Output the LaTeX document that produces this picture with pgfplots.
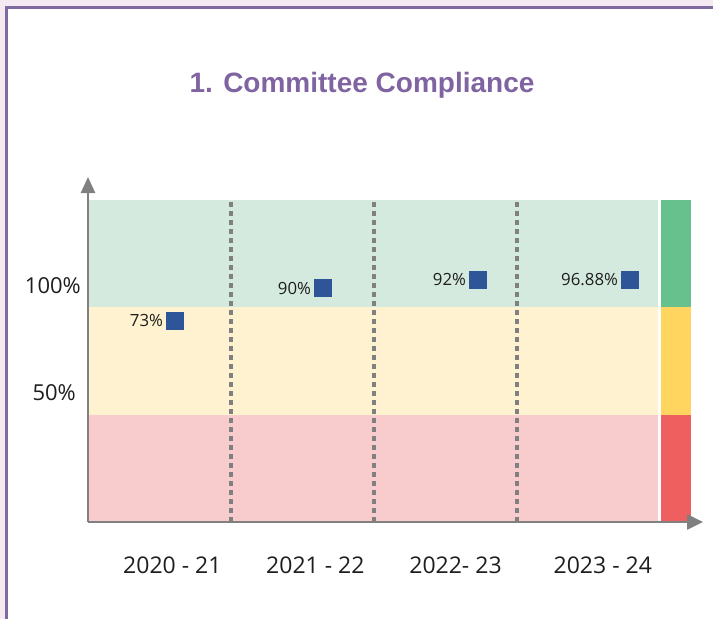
\documentclass[border=0pt]{standalone}
\usepackage{pgfplots}
\pgfplotsset{compat=1.18}
\usepackage{fontspec}
\setmainfont{Open Sans}
\newfontfamily\titlefont{Liberation Sans}
\usetikzlibrary{arrows.meta}
\definecolor{pinkbg}{HTML}{F5EAF2}
\definecolor{frame}{HTML}{8068A0}
\definecolor{titlec}{HTML}{8064A2}
\definecolor{gband}{HTML}{D5EADF}
\definecolor{yband}{HTML}{FFF2D0}
\definecolor{rband}{HTML}{F8CCCC}
\definecolor{gbar}{HTML}{66C18D}
\definecolor{ybar}{HTML}{FFD45F}
\definecolor{rbar}{HTML}{F05F5F}
\definecolor{mk}{HTML}{2E5597}
\definecolor{axc}{HTML}{808080}
\definecolor{txt}{HTML}{1E1E1E}
\begin{document}
\begin{tikzpicture}
\path[use as bounding box] (0pt,0pt) rectangle (713pt,619pt);
\fill[pinkbg] (0pt,0pt) rectangle (713pt,619pt);
\fill[frame] (5pt,0pt) rectangle (713pt,612.5pt);
\fill[white] (8pt,0pt) rectangle (713pt,609.5pt);
\node[anchor=base, text=titlec, font=\titlefont\bfseries\fontsize{28}{32}\selectfont] at (362pt,526pt) {1. Committee Compliance};
\begin{axis}[
  at={(88pt,97pt)}, anchor=origin,
  scale only axis, width=603pt, height=322pt,
  xmin=0, xmax=4.2168, ymin=0, ymax=3,
  clip=false,
  axis on top,
  axis lines=left,
  every outer x axis line/.append style={draw=axc, line width=2.6pt, -{Triangle[length=16pt,width=15pt]}, shorten >=-12pt},
  every outer y axis line/.append style={draw=axc, line width=2.6pt, -{Triangle[length=16pt,width=14pt]}, shorten >=-23pt},
  axis line style={draw=axc, line width=2.6pt},
  major tick length=0pt,
  xtick={0.59,1.59,2.57,3.6},
  xticklabels={2020 - 21, 2021 - 22, 2022- 23, 2023 - 24},
  ytick={1.202,2.199},
  yticklabels={50\%\kern5pt, 100\%},
  xticklabel style={font=\fontsize{23}{26}\selectfont, text=txt, inner sep=0pt, anchor=north, yshift=-35pt},
  yticklabel style={font=\fontsize{22}{25}\selectfont, text=txt, inner sep=0pt, anchor=east, xshift=-7pt},
]
% background bands
\addplot[draw=none, fill=rband] coordinates {(0,0) (3.986,0) (3.986,1) (0,1)} -- cycle;
\addplot[draw=none, fill=yband] coordinates {(0,1) (3.986,1) (3.986,2) (0,2)} -- cycle;
\addplot[draw=none, fill=gband] coordinates {(0,2) (3.986,2) (3.986,3) (0,3)} -- cycle;
% right status bar
\addplot[draw=none, fill=rbar] coordinates {(4.007,0) (4.217,0) (4.217,1) (4.007,1)} -- cycle;
\addplot[draw=none, fill=ybar] coordinates {(4.007,1) (4.217,1) (4.217,2) (4.007,2)} -- cycle;
\addplot[draw=none, fill=gbar] coordinates {(4.007,2) (4.217,2) (4.217,3) (4.007,3)} -- cycle;
% separators
\addplot[draw=axc, line width=3.2pt, dash pattern=on 5pt off 4pt, line cap=butt] coordinates {(1,0) (1,3)};
\addplot[draw=axc, line width=3.2pt, dash pattern=on 5pt off 4pt, line cap=butt] coordinates {(2,0) (2,3)};
\addplot[draw=axc, line width=3.2pt, dash pattern=on 5pt off 4pt, line cap=butt] coordinates {(3,0) (3,3)};
% values
\addplot[color=mk, only marks, mark=square*, mark size=8.5pt, mark options={fill=mk, draw=mk, line width=0pt},
  point meta=explicit symbolic, nodes near coords,
  nodes near coords style={anchor=east, xshift=-12pt, inner sep=0pt, text=txt, font=\fontsize{16.8}{20}\selectfont}]
  coordinates {(0.608,1.873) [73\%] (1.643,2.180) [90\%] (2.727,2.255) [92\%] (3.790,2.255) [96.88\%]};
\end{axis}
\end{tikzpicture}
\end{document}
